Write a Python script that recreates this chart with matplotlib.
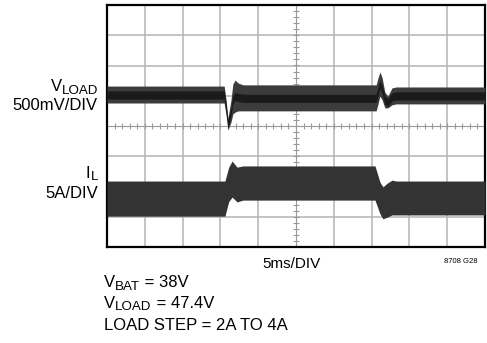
import numpy as np
import matplotlib
matplotlib.use("Agg")
import matplotlib.pyplot as plt

FONT = 'Liberation Sans'
plt.rcParams['font.family'] = [FONT, 'DejaVu Sans']

# ---- data (divisions; x: 0..10 time divs, y: 0..8 vertical divs) ----
vload_x  = [0, 3.10, 3.15, 3.20, 3.28, 3.33, 3.39, 3.47, 3.60, 7.12, 7.17, 7.22, 7.28, 7.35, 7.43, 7.54, 7.65, 10]
vload_up = [5.32, 5.32, 4.86, 4.26, 4.86, 5.39, 5.52, 5.42, 5.36, 5.36, 5.59, 5.79, 5.59, 5.12, 4.99, 5.26, 5.29, 5.29]
vload_lo = [4.76, 4.76, 4.36, 3.87, 4.13, 4.40, 4.46, 4.50, 4.50, 4.50, 4.73, 4.99, 4.86, 4.60, 4.60, 4.70, 4.73, 4.73]

il_x  = [0, 3.12, 3.22, 3.31, 3.44, 3.60, 7.09, 7.22, 7.30, 7.40, 7.54, 7.65, 10]
il_up = [2.18, 2.18, 2.64, 2.84, 2.64, 2.68, 2.68, 2.15, 1.98, 2.10, 2.21, 2.18, 2.18]
il_lo = [1.02, 1.02, 1.50, 1.65, 1.49, 1.55, 1.55, 1.10, 0.93, 0.98, 1.06, 1.06, 1.06]

n_xdiv, n_ydiv = 10, 8

fig = plt.figure(figsize=(4.87, 3.43), dpi=100)
W, H = 487, 343
ax = fig.add_axes([107 / W, 1 - 247 / H, 378 / W, 242 / H])
ax.set_xlim(0, n_xdiv)
ax.set_ylim(0, n_ydiv)

# grid
for i in range(1, n_xdiv):
    if i != n_xdiv // 2:
        ax.axvline(i, color='#b4b4b4', lw=1.1, zorder=1)
for j in range(1, n_ydiv):
    if j != n_ydiv // 2:
        ax.axhline(j, color='#b4b4b4', lw=1.1, zorder=1)
# center cross with minor ticks
ax.axvline(n_xdiv / 2, color='#9a9a9a', lw=0.8, zorder=1)
ax.axhline(n_ydiv / 2, color='#9a9a9a', lw=0.8, zorder=1)
mx = np.arange(0.2, n_xdiv, 0.2)
ax.plot(mx, np.full_like(mx, n_ydiv / 2), ls='none', marker='|', ms=4, mew=0.8, color='#9a9a9a', zorder=1)
my = np.arange(0.2, n_ydiv, 0.2)
ax.plot(np.full_like(my, n_xdiv / 2), my, ls='none', marker='_', ms=4, mew=0.8, color='#9a9a9a', zorder=1)

# traces
vx = np.array(vload_x); vu = np.array(vload_up); vl = np.array(vload_lo)
ax.fill_between(vx, vl, vu, color='#3c3c3c', lw=0, zorder=3)
vm = (vu + vl) / 2
ax.fill_between(vx, vm - 0.15, vm + 0.12, color='#1a1a1a', lw=0, zorder=4)
ax.fill_between(il_x, il_lo, il_up, color='#333333', lw=0, zorder=3)

ax.set_xticks([]); ax.set_yticks([])
for s in ax.spines.values():
    s.set_linewidth(1.6)
    s.set_color('black')

renderer = fig.canvas.get_renderer()

def px(x, y):
    return x / W, 1 - y / H

def rich(x, y, parts, fs, ha='left'):
    """parts: list of (text, is_subscript). x,y in pixels (y from top, baseline)."""
    texts = []
    for t, sub in parts:
        size = fs * 0.8 if sub else fs
        dy = 2.5 if sub else 0
        tx = fig.text(0, 0, t, fontsize=size, ha='left', va='baseline')
        w = tx.get_window_extent(renderer).width
        texts.append((tx, w, dy))
    total = sum(w for _, w, _ in texts)
    cx = x - total if ha == 'right' else x
    for tx, w, dy in texts:
        tx.set_position(px(cx, y + dy))
        cx += w

fs = 12
rich(98, 91, [('V', False), ('LOAD', True)], fs, ha='right')
fig.text(*px(98, 110), '500mV/DIV', ha='right', va='baseline', fontsize=fs)
rich(98, 178, [('I', False), ('L', True)], fs, ha='right')
fig.text(*px(98, 198), '5A/DIV', ha='right', va='baseline', fontsize=fs)

fig.text(*px(291, 268), '5ms/DIV', ha='center', va='baseline', fontsize=11)
fig.text(*px(477, 263), '8708 G28', ha='right', va='baseline', fontsize=5.5)

rich(104, 287, [('V', False), ('BAT', True), (' = 38V', False)], fs)
rich(104, 308, [('V', False), ('LOAD', True), (' = 47.4V', False)], fs)
fig.text(*px(104, 330), 'LOAD STEP = 2A TO 4A', ha='left', va='baseline', fontsize=fs)

fig.savefig('out.png', dpi=100)
